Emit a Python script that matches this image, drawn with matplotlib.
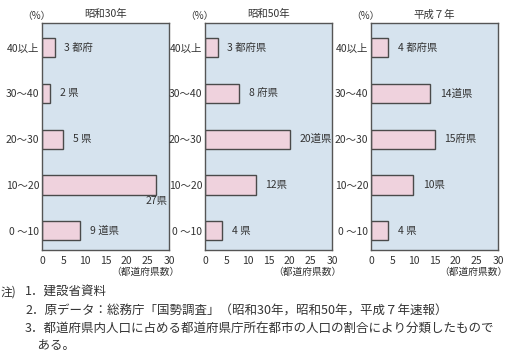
import matplotlib

matplotlib.use("Agg")
import matplotlib.pyplot as plt

plt.rcParams["font.family"] = ["Noto Sans CJK JP", "DejaVu Sans"]

W, H = 528, 355

categories = ["40以上", "30〜40", "20〜30", "10〜20", "0 〜10"]
years = ["昭和30年", "昭和50年", "平成７年"]
counts_s30 = [3, 2, 5, 27, 9]
labels_s30 = ["3 都府", "2 県", "5 県", "27県", "9 道県"]
counts_s50 = [3, 8, 20, 12, 4]
labels_s50 = ["3 都府県", "8 府県", "20道県", "12県", "4 県"]
counts_h7 = [4, 14, 15, 10, 4]
labels_h7 = ["4 都府県", "14道県", "15府県", "10県", "4 県"]
xticks = [0, 5, 10, 15, 20, 25, 30]
notes = [
    ("注)", "1．建設省資料"),
    ("", "2．原データ：総務庁「国勢調査」（昭和30年，昭和50年，平成７年速報）"),
    ("", "3．都道府県内人口に占める都道府県庁所在都市の人口の割合により分類したもので"),
    ("", "　ある。"),
]

BG = "#d6e3ee"
BAR = "#efd2dd"
EDGE = "#4a4a4a"
TXT = "#333333"

fig = plt.figure(figsize=(W / 100, H / 100), dpi=100)
fig.patch.set_facecolor("white")

panels = [
    (42, years[0], counts_s30, labels_s30),
    (205, years[1], counts_s50, labels_s50),
    (371, years[2], counts_h7, labels_h7),
]
top, bottom, width = 23, 250, 127

for left, title, counts, labels in panels:
    ax = fig.add_axes([left / W, 1 - bottom / H, width / W, (bottom - top) / H])
    ax.set_facecolor(BG)
    ypos = list(range(len(categories)))
    ax.barh(ypos, counts, height=0.42, color=BAR, edgecolor=EDGE, linewidth=1.0)
    ax.set_xlim(0, 30)
    ax.set_ylim(len(categories) - 0.58, -0.54)
    ax.set_yticks(ypos)
    ax.set_yticklabels(categories)
    ax.set_xticks(xticks)
    ax.tick_params(length=0, labelsize=7.5, colors=TXT, pad=2)
    ax.tick_params(axis="x", pad=4)
    for s in ax.spines.values():
        s.set_color("#555555")
        s.set_linewidth(1.0)
    for y, c, lab in zip(ypos, counts, labels):
        if c > 25:
            ax.text(c, y + 0.24, lab, ha="center", va="top", fontsize=7.5, color=TXT)
        else:
            ax.annotate(lab, (c, y), xytext=(7, 0), textcoords="offset points",
                        ha="left", va="center", fontsize=7.5, color=TXT)
    ax.set_title(title, fontsize=7.5, color=TXT, pad=4)
    fig.text((left - 6) / W, 1 - 16 / H, "（%）", ha="center", va="center",
             fontsize=7, color=TXT)
    fig.text((left + width + 10) / W, 1 - 272 / H, "（都道府県数）", ha="right",
             va="center", fontsize=7, color=TXT)

line_y = [292, 311, 329, 346]
for (head, body), y in zip(notes, line_y):
    if head:
        fig.text(1 / W, 1 - y / H, head, ha="left", va="center", fontsize=8.5, color=TXT)
    fig.text(25 / W, 1 - y / H, body, ha="left", va="center", fontsize=9, color=TXT)

fig.savefig("out.png", dpi=100, facecolor="white")
